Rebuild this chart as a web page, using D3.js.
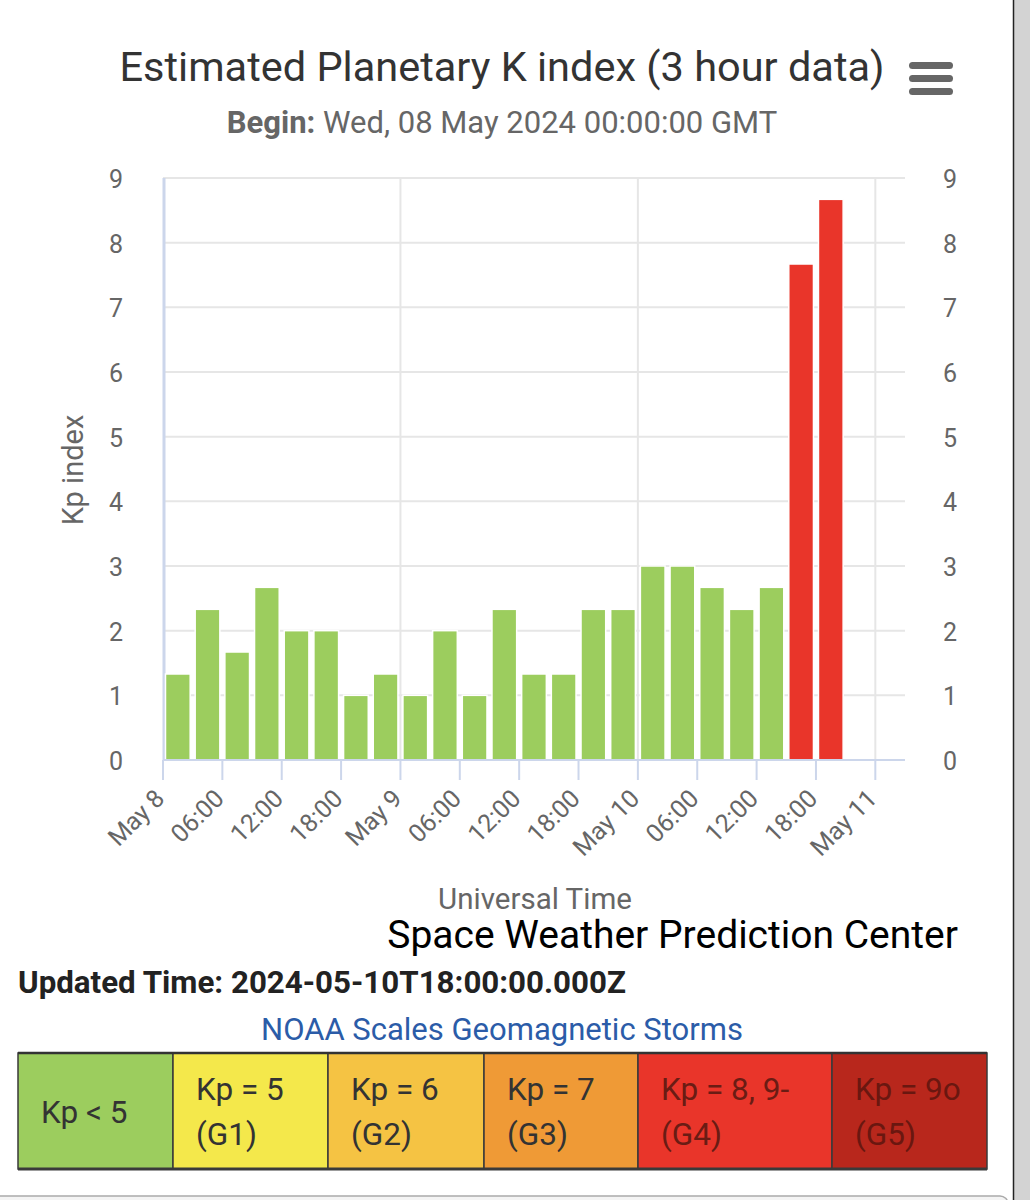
<!DOCTYPE html>
<html lang="en">
<head>
<meta charset="UTF-8">
<title>Estimated Planetary K index</title>
<script src="https://cdn.jsdelivr.net/npm/d3@7"></script>
<style>
  body { margin: 0; background: #fff; font-family: Roboto, "Noto Sans", sans-serif; }
  svg { display: block; }
</style>
</head>
<body>
<script>
// Kp values, one per 3 hour interval starting at the begin time
const kpValues = [1.33, 2.33, 1.67, 2.67, 2, 2, 1, 1.33, 1, 2, 1, 2.33,
                  1.33, 1.33, 2.33, 2.33, 3, 3, 2.67, 2.33, 2.67, 7.67, 8.67];
const beginTime = "2024-05-08T00:00:00Z";
const endTime = "2024-05-11T03:00:00Z";
const yTicks = [0, 1, 2, 3, 4, 5, 6, 7, 8, 9];

// NOAA storm scale legend
const scaleLabels = [["Kp < 5"], ["Kp = 5", "(G1)"], ["Kp = 6", "(G2)"],
                     ["Kp = 7", "(G3)"], ["Kp = 8, 9-", "(G4)"], ["Kp = 9o", "(G5)"]];
const scaleColors = ["#9ccd5e", "#f4e84b", "#f5c343", "#ef9a36", "#e9352a", "#b8271c"];
const scaleTextColors = ["#333", "#333", "#333", "#333", "#6a1c14", "#6a1710"];
const scaleThresholds = [4.5, 5.5, 6.5, 7.5, 8.84];

const W = 1030, H = 1200;
const plot = { left: 163, right: 905, top: 178, bottom: 760 };

const svg = d3.select("body").append("svg").attr("width", W).attr("height", H);

const t0 = new Date(beginTime);
const bars = kpValues.map((v, i) => ({ t: d3.utcHour.offset(t0, i * 3), v }));

const x = d3.scaleUtc().domain([t0, new Date(endTime)]).range([plot.left, plot.right]);
const y = d3.scaleLinear().domain([0, 9]).range([plot.bottom, plot.top]);
const color = d3.scaleThreshold().domain(scaleThresholds).range(scaleColors);

// title + subtitle
svg.append("text")
  .attr("x", 502).attr("y", 81)
  .attr("text-anchor", "middle")
  .attr("font-size", 41.5).attr("fill", "#333")
  .text("Estimated Planetary K index (3 hour data)");

const sub = svg.append("text")
  .attr("x", 502).attr("y", 133)
  .attr("text-anchor", "middle")
  .attr("font-size", 31).attr("fill", "#666");
sub.append("tspan").attr("font-weight", "bold").text("Begin:");
sub.append("tspan").text(" Wed, 08 May 2024 00:00:00 GMT");

// menu icon
svg.append("g").selectAll("rect")
  .data([62, 75, 88])
  .join("rect")
  .attr("x", 909).attr("y", d => d)
  .attr("width", 44).attr("height", 7).attr("rx", 3.5)
  .attr("fill", "#666");

// gridlines
svg.append("g").selectAll("line")
  .data(yTicks)
  .join("line")
  .attr("x1", plot.left).attr("x2", plot.right)
  .attr("y1", d => y(d)).attr("y2", d => y(d))
  .attr("stroke", "#e6e6e6").attr("stroke-width", 2);

const dayTicks = x.ticks(d3.utcDay.every(1));
svg.append("g").selectAll("line")
  .data(dayTicks.slice(1))
  .join("line")
  .attr("x1", d => x(d)).attr("x2", d => x(d))
  .attr("y1", plot.top).attr("y2", plot.bottom)
  .attr("stroke", "#e6e6e6").attr("stroke-width", 2);

svg.append("line")
  .attr("x1", plot.left + 1).attr("x2", plot.left + 1)
  .attr("y1", plot.top).attr("y2", plot.bottom)
  .attr("stroke", "#ccd6eb").attr("stroke-width", 3);

// bars
const slot = x(d3.utcHour.offset(t0, 3)) - x(t0);
svg.append("g").selectAll("rect")
  .data(bars)
  .join("rect")
  .attr("x", d => x(d.t) + 2.5)
  .attr("width", slot - 5)
  .attr("y", d => y(d.v))
  .attr("height", d => y(0) - y(d.v))
  .attr("fill", d => color(d.v))
  .attr("stroke", "#fff").attr("stroke-width", 1.5);

// x axis
const xTicks = x.ticks(d3.utcHour.every(6)).filter(d => d <= new Date("2024-05-11T00:00:00Z"));
const fmtX = d => d.getUTCHours() === 0 ? d3.utcFormat("%b %-d")(d) : d3.utcFormat("%H:%M")(d);

const xAxis = svg.append("g");
xAxis.append("line")
  .attr("x1", plot.left).attr("x2", plot.right)
  .attr("y1", plot.bottom).attr("y2", plot.bottom)
  .attr("stroke", "#ccd6eb").attr("stroke-width", 2);
xAxis.selectAll(".tick")
  .data(xTicks)
  .join("line")
  .attr("class", "tick")
  .attr("x1", d => x(d)).attr("x2", d => x(d))
  .attr("y1", plot.bottom).attr("y2", plot.bottom + 20)
  .attr("stroke", "#ccd6eb").attr("stroke-width", 2);
xAxis.selectAll(".lbl")
  .data(xTicks)
  .join("text")
  .attr("class", "lbl")
  .attr("transform", d => `translate(${x(d) + 3},800) rotate(-45)`)
  .attr("text-anchor", "end")
  .attr("font-size", 25).attr("fill", "#666")
  .text(fmtX);

// y labels both sides
svg.append("g").selectAll("text")
  .data(yTicks)
  .join("text")
  .attr("x", 123).attr("y", d => y(d) + 10)
  .attr("text-anchor", "end")
  .attr("font-size", 25).attr("fill", "#666")
  .text(d => d);
svg.append("g").selectAll("text")
  .data(yTicks)
  .join("text")
  .attr("x", 943).attr("y", d => y(d) + 10)
  .attr("text-anchor", "start")
  .attr("font-size", 25).attr("fill", "#666")
  .text(d => d);

svg.append("text")
  .attr("transform", "translate(83,470) rotate(-90)")
  .attr("text-anchor", "middle")
  .attr("font-size", 29).attr("fill", "#666")
  .text("Kp index");

svg.append("text")
  .attr("x", 535).attr("y", 909)
  .attr("text-anchor", "middle")
  .attr("font-size", 29.5).attr("fill", "#666")
  .text("Universal Time");

svg.append("text")
  .attr("x", 958).attr("y", 948)
  .attr("text-anchor", "end")
  .attr("font-size", 39).attr("fill", "#000")
  .text("Space Weather Prediction Center");

svg.append("text")
  .attr("x", 18).attr("y", 993)
  .attr("font-size", 31.3).attr("font-weight", "bold").attr("fill", "#222")
  .text("Updated Time: 2024-05-10T18:00:00.000Z");

svg.append("text")
  .attr("x", 502).attr("y", 1040)
  .attr("text-anchor", "middle")
  .attr("font-size", 31).attr("fill", "#2b5ca8")
  .text("NOAA Scales Geomagnetic Storms");

// legend table
const colW = [155, 155, 156, 154, 194, 155];
const colX = colW.reduce((a, w) => { a.push(a[a.length - 1] + w); return a; }, [18]);
const tTop = 1053, tBot = 1169;
const cells = svg.append("g").selectAll("g")
  .data(scaleLabels)
  .join("g")
  .attr("transform", (d, i) => `translate(${colX[i]},${tTop})`);
cells.append("rect")
  .attr("width", (d, i) => colW[i]).attr("height", tBot - tTop)
  .attr("fill", (d, i) => scaleColors[i])
  .attr("stroke", "#3a3a3a").attr("stroke-width", 1.5);
cells.each(function (d, i) {
  const g = d3.select(this);
  if (d.length === 1) {
    g.append("text").attr("x", 23).attr("y", 70)
      .attr("font-size", 31.5).attr("fill", scaleTextColors[i]).text(d[0]);
  } else {
    d.forEach((s, k) => g.append("text").attr("x", 23).attr("y", 47 + k * 45)
      .attr("font-size", 31.5).attr("fill", scaleTextColors[i]).text(s));
  }
});
svg.append("line")
  .attr("x1", 18).attr("x2", colX[colX.length - 1])
  .attr("y1", tTop).attr("y2", tTop)
  .attr("stroke", "#333").attr("stroke-width", 2.5);
svg.append("line")
  .attr("x1", 18).attr("x2", colX[colX.length - 1])
  .attr("y1", tBot).attr("y2", tBot)
  .attr("stroke", "#3a3a3a").attr("stroke-width", 3);

// page chrome: side strip and next card edge
svg.append("rect").attr("x", 1014).attr("y", 0).attr("width", 16).attr("height", H).attr("fill", "#d3d3d3");
svg.append("line").attr("x1", 1013.5).attr("x2", 1013.5).attr("y1", 0).attr("y2", H)
  .attr("stroke", "#222").attr("stroke-width", 1.5);
svg.append("rect").attr("x", -10).attr("y", 1196).attr("width", 1018).attr("height", 40).attr("rx", 8)
  .attr("fill", "#f4f4f4").attr("stroke", "#aaa").attr("stroke-width", 1.5);
</script>
</body>
</html>
